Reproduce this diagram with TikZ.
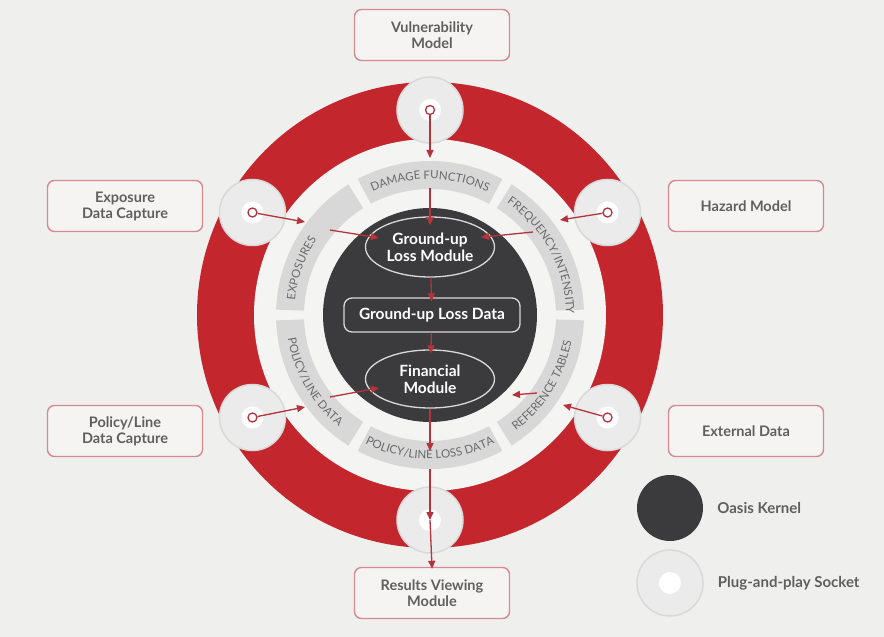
\documentclass[tikz,border=0pt]{standalone}
\usepackage{fontspec}
\setmainfont{Lato}
\setsansfont{Lato}
\usetikzlibrary{arrows.meta,decorations.text,positioning,shapes.geometric}

\definecolor{bgcol}{HTML}{EFEFED}
\definecolor{ringred}{HTML}{C4262E}
\definecolor{innercol}{HTML}{F4F4F3}
\definecolor{bandcol}{HTML}{D8D8D8}
\definecolor{kernelcol}{HTML}{3B3B3D}
\definecolor{arrowred}{HTML}{B5333B}
\definecolor{boxedge}{HTML}{D68A90}
\definecolor{boxfill}{HTML}{F5F4F3}
\definecolor{txtgray}{HTML}{5F5F5F}
\definecolor{labgray}{HTML}{6A6A6A}
\definecolor{sockcol}{HTML}{EBEBEB}

\tikzset{
  module/.style={rounded corners=7pt, draw=boxedge, line width=1.4pt, fill=boxfill, text=txtgray,
    font=\fontsize{14.5}{16}\selectfont\bfseries, align=center, minimum width=155pt, minimum height=51pt},
  socket/.style={circle, minimum size=66pt, inner sep=0pt, fill=sockcol, draw=black!15, line width=1.5pt,
    path picture={\fill[white] (path picture bounding box.center) circle (11);}},
  marker/.style={circle, minimum size=9pt, inner sep=0pt, fill=white, draw=arrowred, line width=1.3pt},
  kernelbox/.style={draw=white!85!black, line width=1.3pt, text=white, inner sep=0pt,
    font=\fontsize{15.5}{17}\selectfont\bfseries, align=center},
  flow/.style={draw=arrowred, line width=1.3pt, -{Triangle[length=8pt,width=7pt]}},
  arclabel/.style={decorate, decoration={text along path, text align=center, text color=labgray,
    text={|\fontsize{11.5}{13}\selectfont|#1}}},
  legendtext/.style={text=txtgray, font=\fontsize{15}{17}\selectfont\bfseries, inner sep=0pt, anchor=west}
}

\begin{document}
\begin{tikzpicture}[x=1pt,y=1pt]
\useasboundingbox[fill=bgcol] (-430,-322) rectangle (454,315);

% ring, bands and kernel
\fill[ringred] (0,0) circle (233);
\fill[innercol] (0,0) circle (176);
\foreach \a in {90,30,-30,-90,-150,150}
  \fill[bandcol] (\a-28:126) arc (\a-28:\a+28:126) -- (\a+28:154) arc (\a+28:\a-28:154) -- cycle;
\fill[kernelcol] (0,0) circle (107);

% band labels
\path[arclabel=DAMAGE FUNCTIONS] (130:136) arc (130:50:136);
\path[arclabel=FREQUENCY/INTENSITY] (68:136) arc (68:-12:136);
\path[arclabel=EXPOSURES] (200:136) arc (200:120:136);
\path[arclabel=POLICY/LINE LOSS DATA] (-130:144) arc (-130:-50:144);
\path[arclabel=REFERENCE TABLES] (-72:144) arc (-72:8:144);
\path[arclabel=POLICY/LINE DATA] (-190:144) arc (-190:-110:144);

% sockets
\foreach \a/\n in {90/vs,150/es,30/hs,-150/ps,-30/xs,-90/rs}
  \node[socket] (\n) at (\a:205) {};
\foreach \n in {vs,es,hs,ps,xs}
  \node[marker] (m\n) at (\n) {};

% modules
\node[module] (vuln) at (2,280) {Vulnerability\\Model};
\node[module] (expo) at (-305,109) {Exposure\\Data Capture};
\node[module] (haz) at (316,109) {Hazard Model};
\node[module] (pol) at (-305,-116) {Policy/Line\\Data Capture};
\node[module] (ext) at (316,-116) {External Data};
\node[module] (res) at (2,-278) {Results Viewing\\Module};

% kernel parts
\node[kernelbox, ellipse, minimum width=129pt, minimum height=60pt] (glm) at (0,68) {Ground-up\\Loss Module};
\node[kernelbox, rounded corners=8pt, minimum width=176pt, minimum height=34pt] (gld) at (2,0) {Ground-up Loss Data};
\node[kernelbox, ellipse, minimum width=129pt, minimum height=58pt] (fin) at (0,-64) {Financial\\Module};

% band end points
\coordinate (dmgout) at (0,157);
\coordinate (dmgin) at (0,127);
\coordinate (expout) at (-125,93);
\coordinate (expin) at (-100,85);
\coordinate (hazout) at (130,95);
\coordinate (hazin) at (103,83);
\coordinate (polout) at (-125,-92);
\coordinate (polin) at (-100,-82);
\coordinate (extout) at (133,-90);
\coordinate (extin) at (107,-78);
\coordinate (reftip) at (82,-80);
\coordinate (lossout) at (0,-132);
\coordinate (lossin) at (0,-154);

% flows
\draw[flow] (mvs) -- (dmgout);
\draw[flow, shorten >=-9pt] (dmgin) -- (glm);
\draw[flow] (mes) -- (expout);
\draw[flow, shorten >=-10pt] (expin) -- (glm.170);
\draw[flow] (mhs) -- (hazout);
\draw[flow, shorten >=-10pt] (hazin) -- (glm.10);
\draw[flow, shorten >=-4pt] (glm) -- (gld);
\draw[flow, shorten >=-4pt] (gld) -- (fin);
\draw[flow] (mps) -- (polout);
\draw[flow, shorten >=-10pt] (polin) -- (fin.190);
\draw[flow] (mxs) -- (extout);
\draw[flow] (extin) -- (reftip);
\draw[flow, shorten >=-4pt] (fin) -- (lossout);
\draw[flow] (lossin) -- (rs.center);
\draw[flow, shorten >=-2pt] (rs.center) -- (res.north);

% legend
\node[circle, fill=kernelcol, minimum size=66pt, inner sep=0pt] (legk) at (240,-193) {};
\node[legendtext, right=14pt of legk] (legkt) {Oasis Kernel};
\node[socket] (legs) at (240,-268) {};
\node[legendtext, right=14pt of legs] (legst) {Plug-and-play Socket};
\end{tikzpicture}
\end{document}
